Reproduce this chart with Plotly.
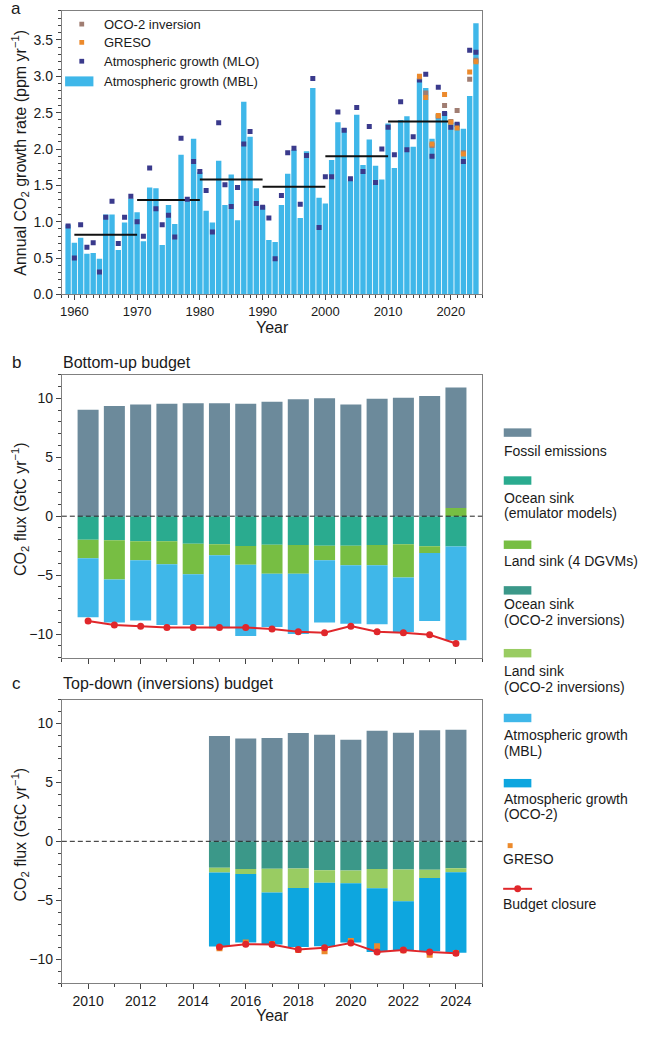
import plotly.graph_objects as go

# ---------------- Panel a data ----------------
years_a = list(range(1959, 2025))
mbl_growth = [0.96, 0.71, 0.78, 0.56, 0.57, 0.49, 1.10, 1.10, 0.61, 0.99,
              1.32, 1.13, 0.73, 1.47, 1.46, 0.68, 1.23, 0.97, 1.92, 1.31,
              2.14, 1.68, 1.15, 0.99, 1.84, 1.23, 1.65, 1.02, 2.65, 2.17,
              1.46, 1.22, 0.75, 0.72, 1.23, 1.66, 1.99, 1.05, 1.97, 2.84,
              1.33, 1.25, 1.85, 2.37, 2.29, 1.56, 2.47, 1.78, 2.13, 1.77,
              1.58, 2.35, 1.74, 2.40, 2.45, 2.03, 2.97, 2.84, 2.14, 2.48,
              2.51, 2.36, 2.36, 2.28, 2.73, 3.73]
mlo_growth = [0.94, 0.50, 0.96, 0.65, 0.71, 0.31, 1.06, 1.28, 0.70, 1.06,
              1.35, 1.00, 0.80, 1.74, 1.18, 0.96, 1.09, 0.79, 2.15, 1.31,
              1.83, 1.69, 1.43, 0.86, 2.36, 1.51, 1.21, 1.47, 2.07, 2.24,
              1.25, 1.20, 1.05, 0.49, 1.36, 1.95, 2.01, 1.24, 1.91, 2.97,
              0.92, 1.62, 1.62, 2.51, 2.26, 1.59, 2.57, 1.69, 2.31, 1.54,
              2.00, 2.30, 1.92, 2.65, 1.99, 2.17, 2.95, 3.03, 1.90, 2.85,
              2.49, 2.30, 2.34, 1.83, 3.36, 3.33]
years_sat = list(range(2015, 2025))
greso_ppm = [3.00, 2.71, 2.07, 2.46, 2.75, 2.37, 2.29, 1.93, 3.06, 3.20]
oco2_inv_ppm = [2.99, 2.77, 2.05, 2.45, 2.60, 2.38, 2.53, 1.95, 2.96, 3.22]
decade_start = [1960, 1970, 1980, 1990, 2000, 2010]
decade_end = [1970, 1980, 1990, 2000, 2010, 2020]
decade_mean = [0.82, 1.30, 1.58, 1.48, 1.90, 2.38]

# ---------------- Panel b data (bottom-up) ----------------
years_b = list(range(2010, 2025))
fossil_bu = [9.04, 9.35, 9.47, 9.55, 9.58, 9.58, 9.55, 9.72, 9.92, 10.00,
             9.47, 9.97, 10.06, 10.20, 10.23]
ocean_emu = [-1.99, -2.05, -2.13, -2.13, -2.33, -2.39, -2.53, -2.42, -2.44, -2.50,
             -2.50, -2.44, -2.39, -2.56, -2.58]
land_dgvm = [-1.58, -3.32, -1.61, -1.94, -2.59, -0.92, -1.60, -2.47, -2.45, -1.24,
             -1.66, -1.72, -2.81, -0.56, 0.70]
atm_mbl = [-5.00, -3.65, -5.11, -5.17, -4.32, -6.21, -6.04, -4.52, -5.11, -5.28,
           -4.97, -5.00, -4.63, -5.78, -7.95]
closure_bu = [-8.90, -9.24, -9.35, -9.44, -9.44, -9.44, -9.44, -9.58, -9.80, -9.89,
              -9.33, -9.80, -9.89, -10.06, -10.81]

# ---------------- Panel c data (top-down) ----------------
years_c = list(range(2015, 2025))
fossil_td = [8.91, 8.71, 8.74, 9.16, 9.02, 8.60, 9.36, 9.19, 9.41, 9.44]
ocean_oco = [-2.24, -2.35, -2.32, -2.30, -2.44, -2.46, -2.35, -2.38, -2.41, -2.27]
land_oco = [-0.39, -0.42, -2.02, -1.65, -1.06, -1.10, -1.63, -2.69, -0.70, -0.34]
atm_oco = [-6.28, -5.80, -4.40, -4.99, -5.38, -5.01, -5.38, -4.15, -6.19, -6.83]
closure_td = [-8.94, -8.71, -8.74, -9.16, -9.02, -8.60, -9.36, -9.19, -9.38, -9.47]
greso_td = [-9.05, -8.57, -8.70, -9.20, -9.30, -8.43, -8.88, -9.22, -9.61, -9.45]

# ---------------- Styles ----------------
C_MBL = "#3fb7e9"
C_MLO = "#3a3a8c"
C_GRESO = "#ec8a2c"
C_OCOINV = "#a07d72"
C_FOSSIL = "#6c8a9b"
C_OCEAN_EMU = "#2aab8f"
C_LAND_DGVM = "#77be43"
C_OCEAN_OCO = "#3b9889"
C_LAND_OCO = "#99cc62"
C_ATM_OCO = "#0da6df"
C_CLOSURE = "#e0272b"
FONT = "Liberation Sans, Arial, sans-serif"
W, H = 649, 1039


def px(x):
    return x / W


def py(y):
    return 1 - y / H


fig = go.Figure()

# Panel a
fig.add_trace(go.Bar(x=years_a, y=mbl_growth, width=0.86, marker=dict(color=C_MBL, line=dict(width=0)),
                     xaxis="x", yaxis="y", showlegend=False))
dx, dy = [], []
for s, e, m in zip(decade_start, decade_end, decade_mean):
    dx += [s, e, None]
    dy += [m, m, None]
fig.add_trace(go.Scatter(x=dx, y=dy, mode="lines", line=dict(color="#111111", width=2),
                         xaxis="x", yaxis="y", showlegend=False))
fig.add_trace(go.Scatter(x=years_a, y=mlo_growth, mode="markers",
                         marker=dict(symbol="square", size=5, color=C_MLO),
                         xaxis="x", yaxis="y", showlegend=False))
fig.add_trace(go.Scatter(x=years_sat, y=oco2_inv_ppm, mode="markers",
                         marker=dict(symbol="square", size=5, color=C_OCOINV),
                         xaxis="x", yaxis="y", showlegend=False))
fig.add_trace(go.Scatter(x=years_sat, y=greso_ppm, mode="markers",
                         marker=dict(symbol="square", size=5, color=C_GRESO),
                         xaxis="x", yaxis="y", showlegend=False))

# Panel b (stack order: ocean, land, fossil, atm)
for vals, col in [(ocean_emu, C_OCEAN_EMU), (land_dgvm, C_LAND_DGVM), (fossil_bu, C_FOSSIL), (atm_mbl, C_MBL)]:
    fig.add_trace(go.Bar(x=years_b, y=vals, width=0.8, marker=dict(color=col, line=dict(width=0)),
                         xaxis="x2", yaxis="y2", showlegend=False))
fig.add_trace(go.Scatter(x=years_b, y=closure_bu, mode="lines+markers",
                         line=dict(color=C_CLOSURE, width=2),
                         marker=dict(size=7, color=C_CLOSURE),
                         xaxis="x2", yaxis="y2", showlegend=False))

# Panel c
for vals, col in [(ocean_oco, C_OCEAN_OCO), (land_oco, C_LAND_OCO), (fossil_td, C_FOSSIL), (atm_oco, C_ATM_OCO)]:
    fig.add_trace(go.Bar(x=years_c, y=vals, width=0.8, marker=dict(color=col, line=dict(width=0)),
                         xaxis="x3", yaxis="y3", showlegend=False))
fig.add_trace(go.Scatter(x=years_c, y=greso_td, mode="markers",
                         marker=dict(symbol="square", size=6, color=C_GRESO),
                         xaxis="x3", yaxis="y3", showlegend=False))
fig.add_trace(go.Scatter(x=years_c, y=closure_td, mode="lines+markers",
                         line=dict(color=C_CLOSURE, width=2),
                         marker=dict(size=7, color=C_CLOSURE),
                         xaxis="x3", yaxis="y3", showlegend=False))

xdom = [px(60), px(481.7)]


def ax_common(size):
    return dict(showline=True, linecolor="#808080", linewidth=1, mirror=True,
                ticks="outside", ticklen=5, tickwidth=1, tickcolor="#444444",
                showgrid=False, zeroline=False,
                tickfont=dict(family=FONT, size=size, color="#1a1a1a"))


minor_tc = "#444444"
fig.update_layout(
    width=W, height=H, autosize=False,
    margin=dict(l=0, r=0, t=0, b=0),
    paper_bgcolor="white", plot_bgcolor="white",
    barmode="relative",
    font=dict(family=FONT, color="#1a1a1a"),
    showlegend=False,
    xaxis=dict(domain=xdom, range=[1958, 2025], tick0=1960, dtick=10, anchor="y",
               minor=dict(ticks="outside", ticklen=3, dtick=1, tick0=1960, tickcolor=minor_tc),
               **ax_common(13)),
    yaxis=dict(domain=[py(296.7), py(11)], range=[0, 3.9], dtick=0.5, tickformat=".1f", anchor="x",
               minor=dict(ticks="outside", ticklen=3, dtick=0.1, tickcolor=minor_tc),
               **ax_common(14)),
    xaxis2=dict(domain=xdom, range=[2009, 2025], tick0=2010, dtick=2, anchor="y2", showticklabels=False,
                minor=dict(ticks="outside", ticklen=3, dtick=1, tickcolor=minor_tc),
                **ax_common(14)),
    yaxis2=dict(domain=[py(662.7), py(377.7)], range=[-12, 12], dtick=5, anchor="x2",
                minor=dict(ticks="outside", ticklen=3, dtick=1, tickcolor=minor_tc),
                **ax_common(14)),
    xaxis3=dict(domain=xdom, range=[2009, 2025], tick0=2010, dtick=2, anchor="y3",
                minor=dict(ticks="outside", ticklen=3, dtick=1, tickcolor=minor_tc),
                **ax_common(14)),
    yaxis3=dict(domain=[py(990.7), py(705)], range=[-12, 12], dtick=5, anchor="x3",
                minor=dict(ticks="outside", ticklen=3, dtick=1, tickcolor=minor_tc),
                **ax_common(14)),
)

shapes = []
# zero dashed lines
for xr, yr in [("x2 domain", "y2"), ("x3 domain", "y3")]:
    shapes.append(dict(type="line", xref=xr, yref=yr, x0=0, x1=1, y0=0, y1=0,
                       line=dict(color="#222222", width=1, dash="5px,3px"), layer="above"))

annotations = []


def ann(text, x, y, size, xanchor="left", yanchor="middle", angle=0):
    annotations.append(dict(text=text, x=px(x), y=py(y), xref="paper", yref="paper",
                            xanchor=xanchor, yanchor=yanchor, showarrow=False, textangle=angle,
                            font=dict(family=FONT, size=size, color="#1a1a1a")))


def rect(x0, y0, x1, y1, color):
    shapes.append(dict(type="rect", xref="paper", yref="paper", x0=px(x0), x1=px(x1),
                       y0=py(y1), y1=py(y0), fillcolor=color, line=dict(width=0), layer="above"))


# Panel labels and titles
ann("a", 14, 9, 17, xanchor="center")
ann("b", 15, 365, 17, xanchor="center")
ann("c", 15, 689, 17, xanchor="center")
ann("Bottom-up budget", 59, 365, 16)
ann("Top-down (inversions) budget", 59, 689, 16)

# Axis titles
ann("Annual CO<sub>2</sub> growth rate (ppm yr<sup>−1</sup>)", 18, 154, 16, xanchor="center", angle=-90)
ann("CO<sub>2</sub> flux (GtC yr<sup>−1</sup>)", 18, 513, 16, xanchor="center", angle=-90)
ann("CO<sub>2</sub> flux (GtC yr<sup>−1</sup>)", 18, 841, 16, xanchor="center", angle=-90)
ann("Year", 271, 330, 16, xanchor="center")
ann("Year", 271, 1023, 16, xanchor="center")

# Panel a legend
leg_a = [("OCO-2 inversion", C_OCOINV, 24.3), ("GRESO", C_GRESO, 42.7),
         ("Atmospheric growth (MLO)", C_MLO, 61.7)]
for label, col, yy in leg_a:
    rect(77.6, yy - 2.4, 82.4, yy + 2.4, col)
    ann(label, 100, yy, 13)
rect(63.3, 77, 91.7, 87, C_MBL)
ann("Atmospheric growth (MBL)", 100, 81.7, 13)

# Panels b/c legend (swatch above text)
LX0, LX1 = 503.3, 531
leg_bc = [
    (C_FOSSIL, 431.7, ["Fossil emissions"], [455]),
    (C_OCEAN_EMU, 480, ["Ocean sink", "(emulator models)"], [501.7, 516.7]),
    (C_LAND_DGVM, 544.7, ["Land sink (4 DGVMs)"], [565]),
    (C_OCEAN_OCO, 590.7, ["Ocean sink", "(OCO-2 inversions)"], [609, 625]),
    (C_LAND_OCO, 654, ["Land sink", "(OCO-2 inversions)"], [676.7, 692.7]),
    (C_MBL, 719.3, ["Atmospheric growth", "(MBL)"], [741, 757.3]),
    (C_ATM_OCO, 785, ["Atmospheric growth", "(OCO-2)"], [805.7, 820.7]),
]
for col, ytop, lines, ys in leg_bc:
    rect(LX0, ytop, LX1, ytop + 8.5, col)
    for t, yy in zip(lines, ys):
        ann(t, LX0 - 2, yy, 14)
rect(507.2, 849.7, 512.2, 854.7, C_GRESO)
ann("GRESO", LX0 - 2.5, 866, 14)
shapes.append(dict(type="line", xref="paper", yref="paper", x0=px(502.7), x1=px(531.7),
                   y0=py(895.7), y1=py(895.7), line=dict(color=C_CLOSURE, width=2)))
shapes.append(dict(type="circle", xref="paper", yref="paper", x0=px(513.8), x1=px(520.8),
                   y0=py(899.2), y1=py(892.2), fillcolor=C_CLOSURE, line=dict(width=0)))
ann("Budget closure", LX0 - 2.5, 910.7, 14)

fig.update_layout(shapes=shapes, annotations=annotations)
fig.write_html("out.html")
